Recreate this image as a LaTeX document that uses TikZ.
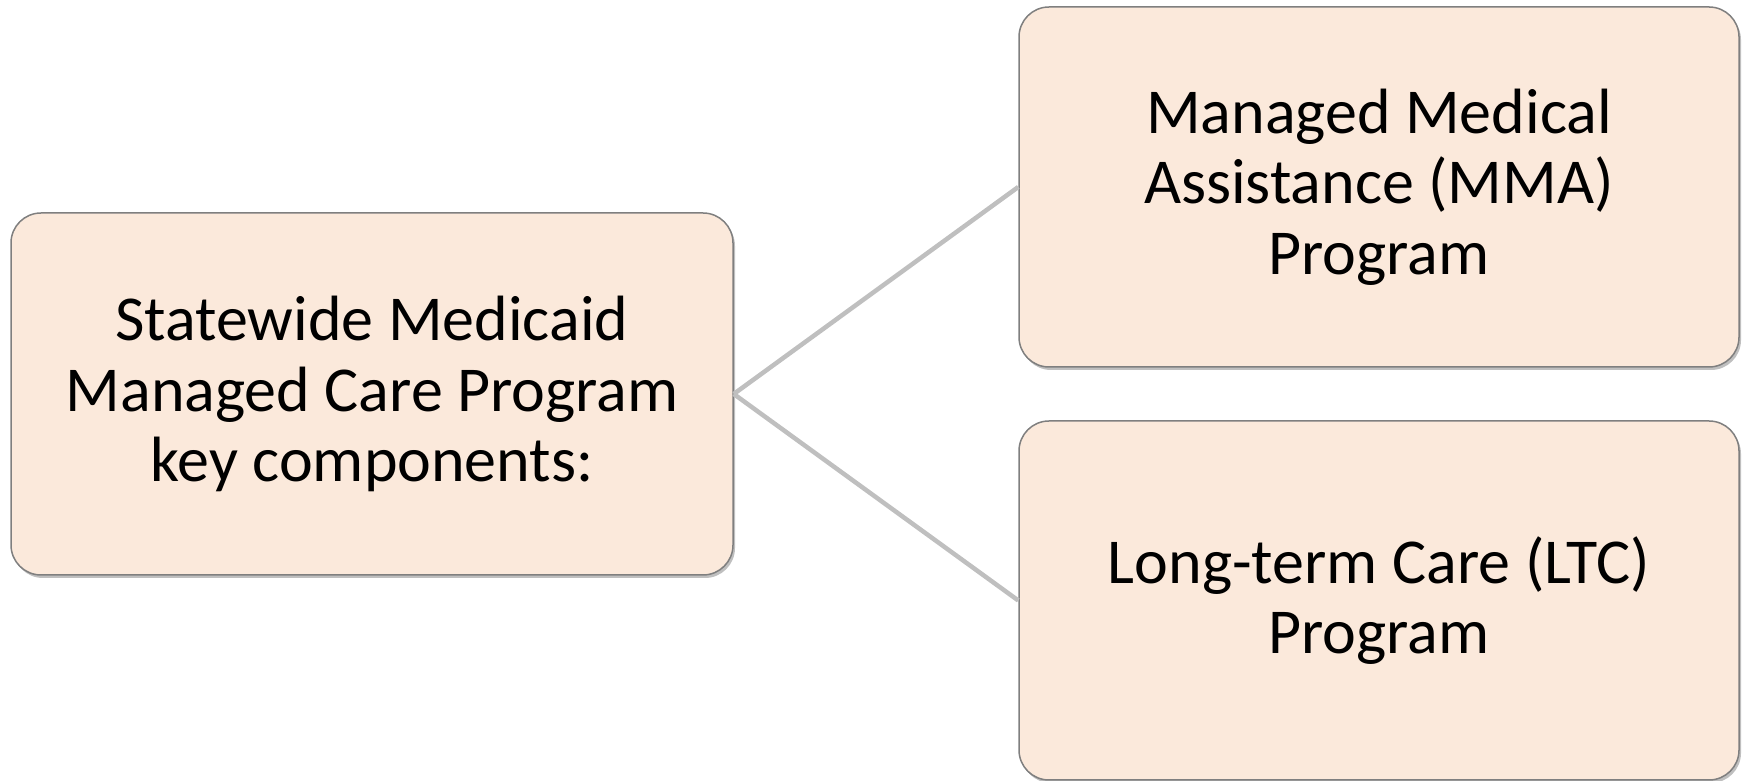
\documentclass[tikz,border=0pt]{standalone}
\usepackage{fontspec}
\setmainfont{Carlito}
\usetikzlibrary{shadows}
\definecolor{boxfill}{HTML}{FBE9DB}
\definecolor{boxline}{HTML}{7F7F7F}
\definecolor{conn}{HTML}{BFBFBF}
\begin{document}
\begin{tikzpicture}[x=1pt,y=1pt,
  box/.style={draw=boxline, line width=1.5pt, fill=boxfill, rounded corners=30pt,
    drop shadow={shadow xshift=2pt, shadow yshift=-3pt, fill=black, opacity=0.25},
    align=center, inner sep=0pt,
    font=\fontsize{64}{70.5}\selectfont},
  link/.style={draw=conn, line width=4.5pt}]
\useasboundingbox (0,0) rectangle (1747,781);
\node[box, minimum width=722pt, minimum height=362pt] (main) at (372,387) {Statewide Medicaid\\Managed Care Program\\key components:};
\node[box, minimum width=720pt, minimum height=360pt] (mma) at (1379,594) {Managed Medical\\Assistance (MMA)\\Program};
\node[box, minimum width=720pt, minimum height=359pt] (ltc) at (1379,180.5) {Long-term Care (LTC)\\Program};
\draw[link] (main.east) -- (mma.west);
\draw[link] (main.east) -- (ltc.west);
\end{tikzpicture}
\end{document}
